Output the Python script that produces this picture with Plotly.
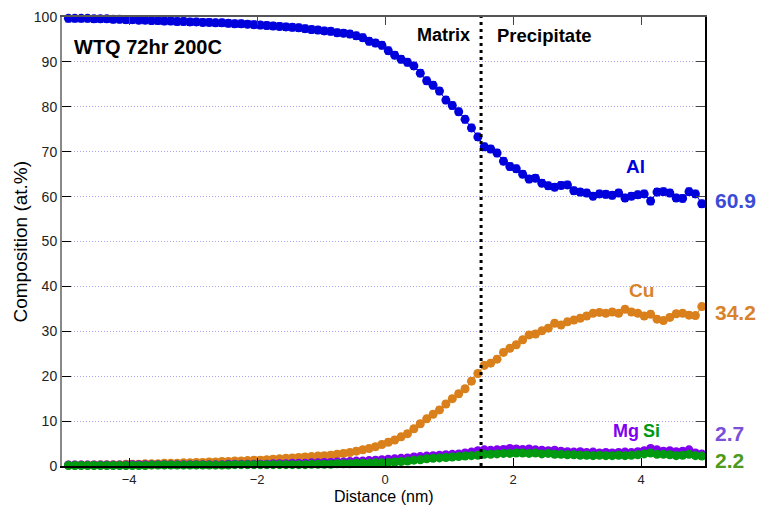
import plotly.graph_objects as go

# Distance bins (nm), centred on 0.1 nm steps
distance = [round(-4.95 + 0.1 * i, 2) for i in range(100)]

al = [99.7, 99.7, 99.7, 99.7, 99.6, 99.6, 99.6, 99.5, 99.5, 99.4,
      99.4, 99.3, 99.3, 99.2, 99.2, 99.1, 99.1, 99.0, 99.0, 98.9,
      98.9, 98.8, 98.8, 98.7, 98.7, 98.6, 98.5, 98.5, 98.4, 98.3,
      98.2, 98.1, 98.0, 97.9, 97.8, 97.7, 97.6, 97.4, 97.2, 97.1,
      96.9, 96.8, 96.5, 96.4, 96.2, 95.8, 95.4, 94.6, 94.2, 93.7,
      92.5, 91.5, 90.6, 89.9, 89.1, 87.5, 85.8, 84.8, 83.5, 81.5,
      80.3, 78.9, 77.2, 75.3, 73.3, 71.1, 70.6, 69.7, 67.9, 66.7,
      66.2, 65.0, 63.9, 64.1, 63.0, 62.4, 62.1, 62.5, 62.6, 61.3,
      61.0, 60.8, 60.1, 60.6, 60.5, 60.3, 60.8, 59.7, 60.1, 60.4,
      60.6, 59.0, 61.0, 61.1, 60.8, 59.7, 59.6, 61.1, 60.6, 58.4]

cu = [0.2, 0.2, 0.2, 0.2, 0.2, 0.3, 0.3, 0.3, 0.3, 0.4,
      0.4, 0.4, 0.5, 0.5, 0.5, 0.6, 0.6, 0.6, 0.7, 0.7,
      0.8, 0.8, 0.9, 0.9, 1.0, 1.0, 1.1, 1.1, 1.2, 1.3,
      1.3, 1.4, 1.5, 1.6, 1.7, 1.8, 1.9, 2.0, 2.1, 2.2,
      2.3, 2.4, 2.6, 2.8, 3.0, 3.3, 3.6, 3.9, 4.3, 4.8,
      5.3, 5.8, 6.5, 7.2, 8.3, 9.4, 10.5, 11.5, 12.5, 13.8,
      15.0, 16.1, 17.2, 18.9, 20.6, 22.4, 22.9, 23.8, 25.3, 26.2,
      27.0, 28.1, 29.2, 29.4, 30.1, 30.7, 31.8, 31.4, 32.1, 32.5,
      32.9, 33.4, 34.0, 34.2, 34.0, 34.3, 34.0, 34.9, 34.3, 34.0,
      33.4, 33.8, 32.7, 32.4, 33.1, 33.9, 34.0, 33.6, 33.5, 35.5]

mg = [0.2, 0.2, 0.2, 0.2, 0.2, 0.2, 0.2, 0.2, 0.2, 0.2,
      0.3, 0.3, 0.3, 0.3, 0.3, 0.3, 0.3, 0.3, 0.3, 0.3,
      0.3, 0.3, 0.3, 0.3, 0.3, 0.4, 0.4, 0.4, 0.4, 0.4,
      0.4, 0.4, 0.5, 0.5, 0.5, 0.6, 0.6, 0.6, 0.7, 0.7,
      0.8, 0.8, 0.9, 0.9, 1.0, 1.1, 1.1, 1.2, 1.3, 1.4,
      1.5, 1.6, 1.7, 1.8, 2.0, 2.1, 2.2, 2.3, 2.4, 2.5,
      2.6, 2.7, 2.9, 3.1, 3.4, 3.6, 3.5, 3.6, 3.7, 3.9,
      3.8, 3.7, 3.8, 3.6, 3.5, 3.4, 3.5, 3.3, 3.2, 3.1,
      3.2, 3.0, 3.1, 2.9, 3.0, 2.9, 3.0, 3.1, 3.0, 3.2,
      3.4, 3.9, 3.6, 3.3, 3.4, 3.2, 3.3, 3.6, 2.9, 2.7]

si = [0.1, 0.1, 0.1, 0.1, 0.1, 0.1, 0.1, 0.1, 0.1, 0.1,
      0.1, 0.1, 0.1, 0.2, 0.2, 0.2, 0.2, 0.2, 0.2, 0.2,
      0.2, 0.2, 0.2, 0.2, 0.2, 0.2, 0.3, 0.3, 0.3, 0.3,
      0.3, 0.3, 0.3, 0.3, 0.3, 0.3, 0.3, 0.3, 0.4, 0.4,
      0.4, 0.4, 0.5, 0.5, 0.5, 0.6, 0.6, 0.6, 0.7, 0.7,
      0.8, 0.9, 1.0, 1.1, 1.3, 1.4, 1.6, 1.7, 1.8, 1.9,
      2.0, 2.1, 2.2, 2.3, 2.4, 2.6, 2.6, 2.7, 2.8, 2.8,
      2.9, 2.9, 2.8, 2.9, 2.7, 2.8, 2.6, 2.6, 2.5, 2.5,
      2.4, 2.4, 2.3, 2.4, 2.3, 2.3, 2.4, 2.3, 2.4, 2.5,
      2.7, 2.9, 2.6, 2.6, 2.5, 2.3, 2.4, 2.6, 2.3, 2.2]

# Measurement uncertainty (at.%) per element
errors = {"Al": 0.8, "Cu": 0.7, "Mg": 0.3, "Si": 0.3}

# Mean precipitate compositions
precip_means = {"Al": 60.9, "Cu": 34.2, "Mg": 2.7, "Si": 2.2}

interface = 1.5
y_ticks = list(range(0, 101, 10))
x_ticks = [-4, -2, 0, 2, 4]

colors = {"Al": "#0000dd", "Cu": "#d9801c", "Mg": "#8000f0", "Si": "#009a10"}
label_colors = {"Al": "#3a4bd8", "Cu": "#d9822b", "Mg": "#7a4fd9", "Si": "#4e9a1c"}

FONT = "Liberation Sans"

fig = go.Figure()

for name, vals in [("Al", al), ("Cu", cu), ("Mg", mg), ("Si", si)]:
    fig.add_trace(go.Scatter(
        x=distance, y=vals, mode="lines+markers", name=name,
        line=dict(color=colors[name], width=1),
        marker=dict(color=colors[name], size=9, line=dict(width=0)),
        error_y=dict(type="constant", value=errors[name], color=colors[name],
                     thickness=1, width=3),
        cliponaxis=False, showlegend=False,
    ))

fig.add_shape(type="line", x0=interface, x1=interface, y0=0, y1=100,
              xref="x", yref="y",
              line=dict(color="black", width=3, dash="3px,4px"))

axis_font = dict(family=FONT, size=14, color="#222222")

fig.update_layout(
    width=760, height=506,
    margin=dict(l=62, r=55, t=17, b=40, autoexpand=False),
    paper_bgcolor="white", plot_bgcolor="white",
    font=dict(family=FONT, color="black"),
    xaxis=dict(
        range=[-5.05, 5.0], tickvals=x_ticks, ticks="inside", ticklen=8,
        tickcolor="black", showline=True, linecolor="black", linewidth=2,
        showgrid=False, zeroline=False, automargin=False,
        tickfont=dict(family=FONT, size=13, color="#222222"),
    ),
    xaxis2=dict(
        overlaying="x", side="top", range=[-5.05, 5.0], tickvals=x_ticks,
        ticks="inside", ticklen=8, tickcolor="#444444", showticklabels=False,
        showline=True, linecolor="#555555", linewidth=2, showgrid=False,
        zeroline=False, automargin=False,
    ),
    yaxis=dict(
        range=[0, 100], tickvals=y_ticks, ticks="inside", ticklen=9,
        tickcolor="black", showline=True, linecolor="#888888", linewidth=2,
        showgrid=True, gridcolor="#a9a9f2", griddash="1px,2px", gridwidth=1,
        zeroline=False, tickfont=axis_font, automargin=False,
    ),
    yaxis2=dict(
        overlaying="y", side="right", range=[0, 100], tickvals=y_ticks,
        ticks="inside", ticklen=9, tickcolor="#444444", showticklabels=False,
        showline=True, linecolor="black", linewidth=2, showgrid=False,
        zeroline=False, automargin=False,
    ),
)

# Hook trace so the secondary (top/right) axes get drawn
fig.add_trace(go.Scatter(x=[None], y=[None], xaxis="x2", yaxis="y2",
                         showlegend=False, hoverinfo="skip"))

annotations = [
    # axis titles
    dict(text="Distance (nm)", x=0.5, xref="paper", y=0, yref="paper",
         yshift=-30, xanchor="center", yanchor="middle",
         font=dict(size=16, color="black")),
    dict(text="Composition (at.%)", x=0, xref="paper", xshift=-42, y=0.5,
         yref="paper", xanchor="center", yanchor="middle", textangle=-90,
         font=dict(size=19, color="black")),
    # in-plot labels
    dict(text="<b>WTQ 72hr 200C</b>", x=-4.89, y=93.4, xanchor="left", yanchor="middle",
         font=dict(size=20, color="black")),
    dict(text="<b>Matrix</b>", x=1.36, y=95.9, xanchor="right", yanchor="middle",
         font=dict(size=18, color="black")),
    dict(text="<b>Precipitate</b>", x=1.72, y=95.9, xanchor="left", yanchor="middle",
         font=dict(size=18.5, color="black")),
    dict(text="<b>Al</b>", x=3.92, y=66.8, xanchor="center", yanchor="middle",
         font=dict(size=19, color=colors["Al"])),
    dict(text="<b>Cu</b>", x=4.0, y=39.0, xanchor="center", yanchor="middle",
         font=dict(size=19, color=label_colors["Cu"])),
    dict(text="<b>Mg</b>", x=4.0, y=7.8, xanchor="right", yanchor="middle",
         font=dict(size=18, color=colors["Mg"])),
    dict(text="<b>Si</b>", x=4.0, y=7.8, xanchor="left", yanchor="middle",
         font=dict(size=18, color=colors["Si"])),
]
label_y = {"Al": 59.2, "Cu": 34.2, "Mg": 7.3, "Si": 1.3}
for name, val in precip_means.items():
    annotations.append(dict(
        text=f"<b>{val}</b>", x=1.0, xref="paper", xshift=8, y=label_y[name],
        xanchor="left", yanchor="middle", showarrow=False,
        font=dict(size=21, color=label_colors[name]),
    ))
for a in annotations:
    a.setdefault("showarrow", False)
    a.setdefault("xref", "x")
    a.setdefault("yref", "y")
fig.update_layout(annotations=annotations)

fig.write_html("out.html")
